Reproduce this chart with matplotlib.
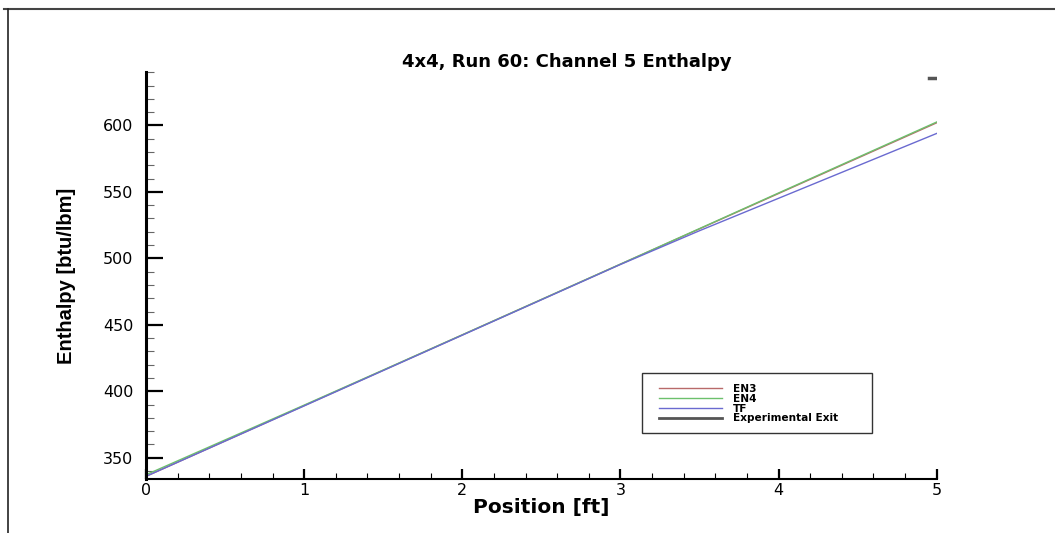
import matplotlib.pyplot as plt
from matplotlib.lines import Line2D
from matplotlib.patches import Rectangle
from matplotlib.ticker import MultipleLocator

# axial position along the channel [ft]
position = [0.0, 0.5, 1.0, 1.5, 2.0, 2.5, 3.0, 3.5, 4.0, 4.5, 5.0]

# enthalpy predictions [btu/lbm]
en3 = [336.0, 362.6, 389.2, 415.8, 442.4, 469.0, 495.6, 522.2, 548.8, 575.4, 602.0]
en4 = [337.2, 363.4, 389.6, 416.0, 442.5, 469.1, 495.7, 522.4, 549.2, 575.9, 602.6]
tf = [336.0, 362.5, 389.0, 415.6, 442.2, 468.8, 495.4, 520.8, 545.2, 569.6, 594.0]

# measured exit enthalpy
exp_x = [4.95, 5.0]
exp_h = [636.0, 636.0]

plt.rcParams['font.family'] = ['DejaVu Sans']

W, H = 1055, 533
fig = plt.figure(figsize=(W / 100, H / 100), dpi=100)
ax = fig.add_axes([0.1384, 0.1013, 0.7495, 0.7631])

ax.plot(position, en3, color='#b86a6a', lw=1.0, label='EN3')
ax.plot(position, en4, color='#6cc06c', lw=1.0, label='EN4')
ax.plot(position, tf, color='#6a6ad0', lw=1.0, label='TF')
ax.plot(exp_x, exp_h, color='#555555', lw=2.5, label='Experimental Exit')

ax.set_xlim(0, 5)
ax.set_ylim(334, 640)
ax.xaxis.set_major_locator(MultipleLocator(1))
ax.xaxis.set_minor_locator(MultipleLocator(0.2))
ax.yaxis.set_major_locator(MultipleLocator(50))
ax.yaxis.set_minor_locator(MultipleLocator(10))

ax.spines['top'].set_visible(False)
ax.spines['right'].set_visible(False)
ax.spines['left'].set_linewidth(2.2)
ax.spines['bottom'].set_linewidth(1.5)

ax.tick_params(axis='y', which='major', direction='in', length=12, width=1.6, labelsize=11.5, pad=9)
ax.tick_params(axis='y', which='minor', direction='in', length=6, width=0.8, color='#666666')
ax.tick_params(axis='x', which='major', direction='in', length=7, width=1.6, labelsize=11.5, pad=3)
ax.tick_params(axis='x', which='minor', direction='in', length=4.5, width=0.8)
ax.patch.set_alpha(0)

ax.set_xlabel('Position [ft]', fontsize=14.5, fontweight='bold', labelpad=0)
fig.text(0.0626, 0.483, 'Enthalpy [btu/lbm]', rotation=90, ha='center', va='center',
         fontsize=14.5, fontweight='bold', family=['Liberation Sans', 'DejaVu Sans'])
fig.text(0.537, 1 - 62 / H, '4x4, Run 60: Channel 5 Enthalpy', ha='center', va='center',
         fontsize=13, fontweight='bold')

# legend entries without frame, box drawn separately
leg = ax.legend(loc='upper left', bbox_to_anchor=(659 / W, 1 - 384 / H),
                bbox_transform=fig.transFigure, prop={'weight': 'bold', 'size': 7.6},
                frameon=False, handlelength=6.0, handletextpad=1.0,
                borderpad=0, labelspacing=-0.02, borderaxespad=0)
leg.legend_handles[3].set_linewidth(2)
fig.add_artist(Rectangle((642 / W, 1 - 433 / H), 230 / W, 60 / H, transform=fig.transFigure,
                         fill=False, edgecolor='#333333', lw=1.0))

# outer frame around the plot page
fig.add_artist(Line2D([4 / W, 1], [1 - 9 / H, 1 - 9 / H], transform=fig.transFigure,
                      color='#444444', lw=1.5))
fig.add_artist(Line2D([8 / W, 8 / W], [0, 1 - 9 / H], transform=fig.transFigure,
                      color='#222222', lw=1.2))

plt.savefig('out.png', dpi=100)
